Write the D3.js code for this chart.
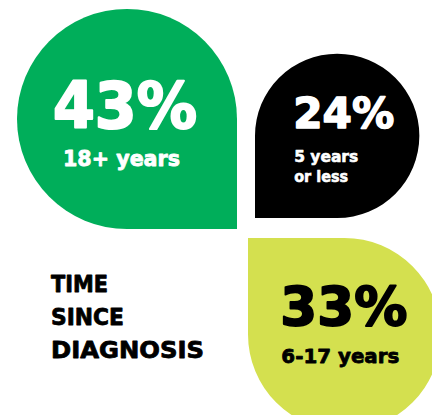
<!DOCTYPE html>
<html>
<head>
<meta charset="utf-8">
<script src="https://cdn.jsdelivr.net/npm/d3@7"></script>
<style>
  html, body { margin: 0; padding: 0; background: #fff; }
  svg { display: block; }
  text { font-family: "DejaVu Sans", "Lato", sans-serif; font-weight: bold; stroke-linejoin: round; }
</style>
</head>
<body>
<div id="chart"></div>
<script>
// ---- data ----
const categories = ["18+ years", "5 years|or less", "6-17 years"];
const values = [43, 24, 33];
const titleLines = ["TIME", "SINCE", "DIAGNOSIS"];

// ---- styles / layout ----
const W = 432, H = 415;
const fills = ["#00AE5A", "#000000", "#D4E04F"];
const textFills = ["#ffffff", "#ffffff", "#000000"];
// square corner position; sx, sy: direction from that corner toward the centre
const corners = [
  { x: 237, y: 229, sx: -1, sy: -1 },  // bottom-right square corner
  { x: 255, y: 218, sx: 1, sy: -1 },   // bottom-left square corner
  { x: 248, y: 238, sx: 1, sy: 1 }     // top-left square corner
];
const labelStyle = [
  { pctDx: -74, pctDy: 9, pctSize: 64, pctW: 144, pctStroke: 2.2, subDx: -64, subDy: 47, subSize: 21, subW: [117], subStroke: 0.8, lineH: 0 },
  { pctDx: -44, pctDy: -8, pctSize: 43, pctW: 101, pctStroke: 1.5, subDx: -43, subDy: 26, subSize: 16, subW: [64, 54], subStroke: 0.6, lineH: 20 },
  { pctDx: -64, pctDy: -9, pctSize: 54, pctW: 127, pctStroke: 1.9, subDx: -63, subDy: 29, subSize: 20, subW: [118], subStroke: 0.8, lineH: 0 }
];
const titleW = [57, 73, 153];

const r = d3.scaleSqrt().domain([0, d3.max(values)]).range([0, 110]);

const svg = d3.select("#chart").append("svg")
  .attr("width", W).attr("height", H);

function petal(cx, cy, rad, sx, sy) {
  // circle with one quadrant squared off
  const p = d3.path();
  const qx = -sx, qy = -sy;
  const angSq = Math.atan2(qy, qx);
  const a0 = angSq + Math.PI / 4;
  const a1 = angSq - Math.PI / 4 + 2 * Math.PI;
  p.moveTo(cx + rad * Math.cos(a0), cy + rad * Math.sin(a0));
  p.arc(cx, cy, rad, a0, a1, false);
  p.lineTo(cx + qx * rad, cy + qy * rad);
  p.closePath();
  return p.toString();
}

values.forEach((v, i) => {
  const rad = r(v);
  const c = corners[i];
  const cx = c.x + c.sx * rad, cy = c.y + c.sy * rad;
  svg.append("path")
    .attr("d", petal(cx, cy, rad, c.sx, c.sy))
    .attr("fill", fills[i]);

  const st = labelStyle[i];
  const g = svg.append("g").attr("fill", textFills[i]).attr("stroke", textFills[i]);
  g.append("text")
    .attr("x", cx + st.pctDx).attr("y", cy + st.pctDy)
    .attr("font-size", st.pctSize)
    .attr("stroke-width", st.pctStroke)
    .attr("textLength", st.pctW).attr("lengthAdjust", "spacingAndGlyphs")
    .text(v + "%");
  categories[i].split("|").forEach((ln, j) => {
    g.append("text")
      .attr("x", cx + st.subDx).attr("y", cy + st.subDy + j * st.lineH)
      .attr("font-size", st.subSize)
      .attr("stroke-width", st.subStroke)
      .attr("textLength", st.subW[j]).attr("lengthAdjust", "spacingAndGlyphs")
      .text(ln);
  });
});

const tg = svg.append("g").attr("fill", "#000").attr("stroke", "#000");
titleLines.forEach((t, j) => {
  tg.append("text")
    .attr("x", 51).attr("y", 292 + j * 33)
    .attr("font-size", 23)
    .attr("stroke-width", 0.8)
    .attr("textLength", titleW[j]).attr("lengthAdjust", "spacingAndGlyphs")
    .text(t);
});
</script>
</body>
</html>
